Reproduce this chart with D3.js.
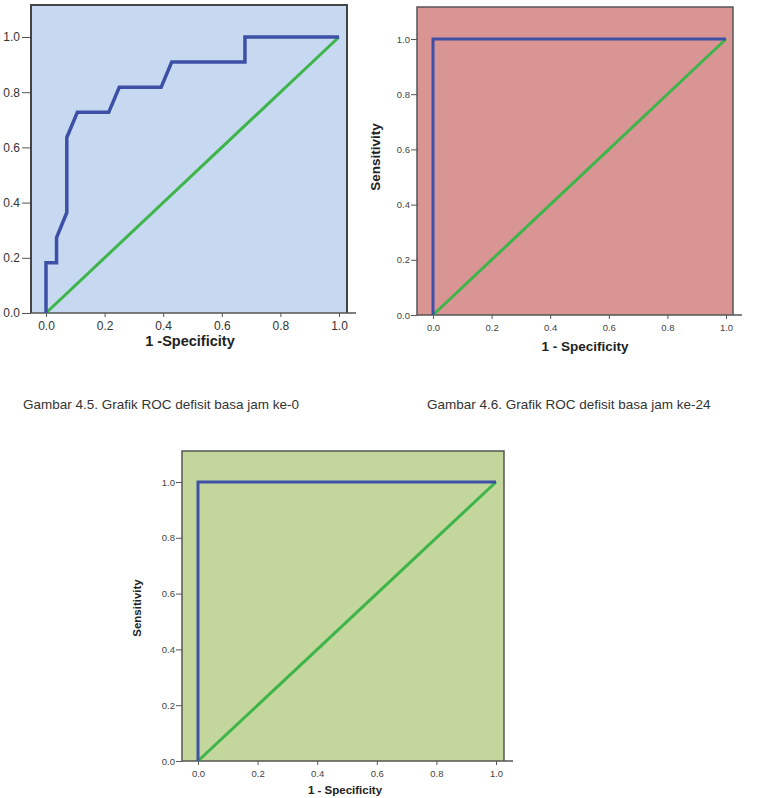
<!DOCTYPE html>
<html>
<head>
<meta charset="utf-8">
<script src="https://cdn.jsdelivr.net/npm/d3@7"></script>
<style>
	body { margin: 0; background: #fff; }
	svg { display: block; font-family: "Liberation Sans", Arial, sans-serif; }
</style>
</head>
<body>
<svg id="chart" width="757" height="798"></svg>
<script>
// tick values shared by every panel
const axisTicks = [0, 0.2, 0.4, 0.6, 0.8, 1.0];

// ROC jam ke-0 (1 - specificity / sensitivity)
const roc0Fpr = [0, 0, 0.036, 0.036, 0.071, 0.071, 0.107, 0.214, 0.25, 0.393, 0.429, 0.679, 0.679, 1.0];
const roc0Tpr = [0, 0.182, 0.182, 0.273, 0.364, 0.636, 0.727, 0.727, 0.818, 0.818, 0.909, 0.909, 1.0, 1.0];

// ROC jam ke-24
const roc24Fpr = [0, 0, 1.0];
const roc24Tpr = [0, 1.0, 1.0];

// third panel
const roc3Fpr = [0, 0, 1.0];
const roc3Tpr = [0, 1.0, 1.0];

// reference diagonal
const refFpr = [0, 1.0];
const refTpr = [0, 1.0];

const captions = [
	"Gambar 4.5. Grafik ROC defisit basa jam ke-0",
	"Gambar 4.6. Grafik ROC defisit basa jam ke-24"
];

const BLUE = '#3e50a6';
const GREEN = '#3db54a';

function toPoints(xs, ys) {
	return xs.map((d, i) => [d, ys[i]]);
}

function drawRoc(svg, p) {
	const x = d3.scaleLinear().domain([0, 1]).range([p.x0, p.x1]);
	const y = d3.scaleLinear().domain([0, 1]).range([p.y0, p.y1]);

	const g = svg.append('g');

	// plot background
	g.append('rect')
		.attr('x', p.left)
		.attr('y', p.top)
		.attr('width', p.right - p.left)
		.attr('height', p.bottom - p.top)
		.attr('fill', p.bg);

	// y axis
	const yAxis = d3.axisLeft(y)
		.tickValues(axisTicks)
		.tickFormat(d3.format('.1f'))
		.tickSize(p.tick)
		.tickPadding(p.pad);

	const ya = g.append('g')
		.attr('transform', `translate(${p.left},0)`)
		.call(yAxis);
	ya.select('.domain').remove();
	ya.selectAll('line').attr('stroke', '#555');
	ya.selectAll('text')
		.attr('font-size', p.tickFont)
		.attr('fill', p.tickColor)
		.attr('font-family', '"Liberation Sans", Arial, sans-serif');

	// x axis
	const xAxis = d3.axisBottom(x)
		.tickValues(axisTicks)
		.tickFormat(d3.format('.1f'))
		.tickSize(4)
		.tickPadding(p.xpad);

	const xa = g.append('g')
		.attr('transform', `translate(0,${p.bottom})`)
		.call(xAxis);
	xa.select('.domain').remove();
	xa.selectAll('line').attr('stroke', '#555');
	xa.selectAll('text')
		.attr('font-size', p.tickFont)
		.attr('fill', p.tickColor)
		.attr('font-family', '"Liberation Sans", Arial, sans-serif');

	// frame: left, top, right
	g.append('path')
		.attr('d', `M${p.left},${p.bottom}V${p.top}H${p.right}V${p.bottom}`)
		.attr('fill', 'none')
		.attr('stroke', p.frame)
		.attr('stroke-width', p.frameWidth);

	// bottom axis line, runs past the frame
	g.append('line')
		.attr('x1', p.left)
		.attr('x2', p.axisEnd)
		.attr('y1', p.bottom)
		.attr('y2', p.bottom)
		.attr('stroke', '#555')
		.attr('stroke-width', 1.5);

	const line = d3.line().x(d => x(d[0])).y(d => y(d[1]));

	g.append('path')
		.datum(toPoints(refFpr, refTpr))
		.attr('d', line)
		.attr('fill', 'none')
		.attr('stroke', GREEN)
		.attr('stroke-width', p.greenWidth);

	g.append('path')
		.datum(toPoints(p.fpr, p.tpr))
		.attr('d', line)
		.attr('fill', 'none')
		.attr('stroke', BLUE)
		.attr('stroke-width', p.blueWidth)
		.attr('stroke-linejoin', 'miter');

	// x title
	g.append('text')
		.attr('x', p.xTitleX)
		.attr('y', p.xTitleY)
		.attr('text-anchor', 'middle')
		.attr('font-size', p.titleFont)
		.attr('font-weight', 'bold')
		.attr('fill', '#222')
		.text(p.xTitle);

	if (p.yTitle) {
		g.append('text')
			.attr('transform', `translate(${p.yTitleX},${p.yTitleY}) rotate(-90)`)
			.attr('text-anchor', 'middle')
			.attr('font-size', p.titleFont)
			.attr('font-weight', 'bold')
			.attr('fill', '#222')
			.text(p.yTitle);
	}
}

const svg = d3.select('#chart');

drawRoc(svg, {
	fpr: roc0Fpr, tpr: roc0Tpr,
	x0: 46, x1: 339, y0: 313, y1: 37,
	left: 31, top: 5, right: 347, bottom: 313, axisEnd: 356,
	bg: '#c6d9f1', frame: '#444', frameWidth: 2,
	tick: 9, pad: 2, xpad: 4, tickFont: 12, tickColor: '#333',
	blueWidth: 3.5, greenWidth: 3,
	xTitle: '1 -Specificity', xTitleX: 190, xTitleY: 346, titleFont: 14.5
});

drawRoc(svg, {
	fpr: roc24Fpr, tpr: roc24Tpr,
	x0: 433, x1: 726, y0: 315, y1: 39,
	left: 417, top: 7, right: 733, bottom: 315, axisEnd: 742,
	bg: '#d99594', frame: '#555', frameWidth: 1.5,
	tick: 6, pad: 1, xpad: 5, tickFont: 9.5, tickColor: '#444',
	blueWidth: 3, greenWidth: 3,
	xTitle: '1 - Specificity', xTitleX: 585, xTitleY: 351, titleFont: 13.5,
	yTitle: 'Sensitivity', yTitleX: 380, yTitleY: 157
});

drawRoc(svg, {
	fpr: roc3Fpr, tpr: roc3Tpr,
	x0: 198, x1: 496, y0: 761, y1: 482,
	left: 182, top: 451, right: 504, bottom: 761, axisEnd: 513,
	bg: '#c3d69b', frame: '#555', frameWidth: 1.5,
	tick: 6, pad: 1, xpad: 5, tickFont: 9.5, tickColor: '#444',
	blueWidth: 3, greenWidth: 3,
	xTitle: '1 - Specificity', xTitleX: 345, xTitleY: 794, titleFont: 11.5,
	yTitle: 'Sensitivity', yTitleX: 141, yTitleY: 608
});

// figure captions
const capX = [23, 427];
svg.selectAll('.caption')
	.data(captions)
	.enter()
	.append('text')
	.attr('class', 'caption')
	.attr('x', (d, i) => capX[i])
	.attr('y', 409)
	.attr('font-size', 13.5)
	.attr('fill', '#333')
	.text(d => d);
</script>
</body>
</html>
